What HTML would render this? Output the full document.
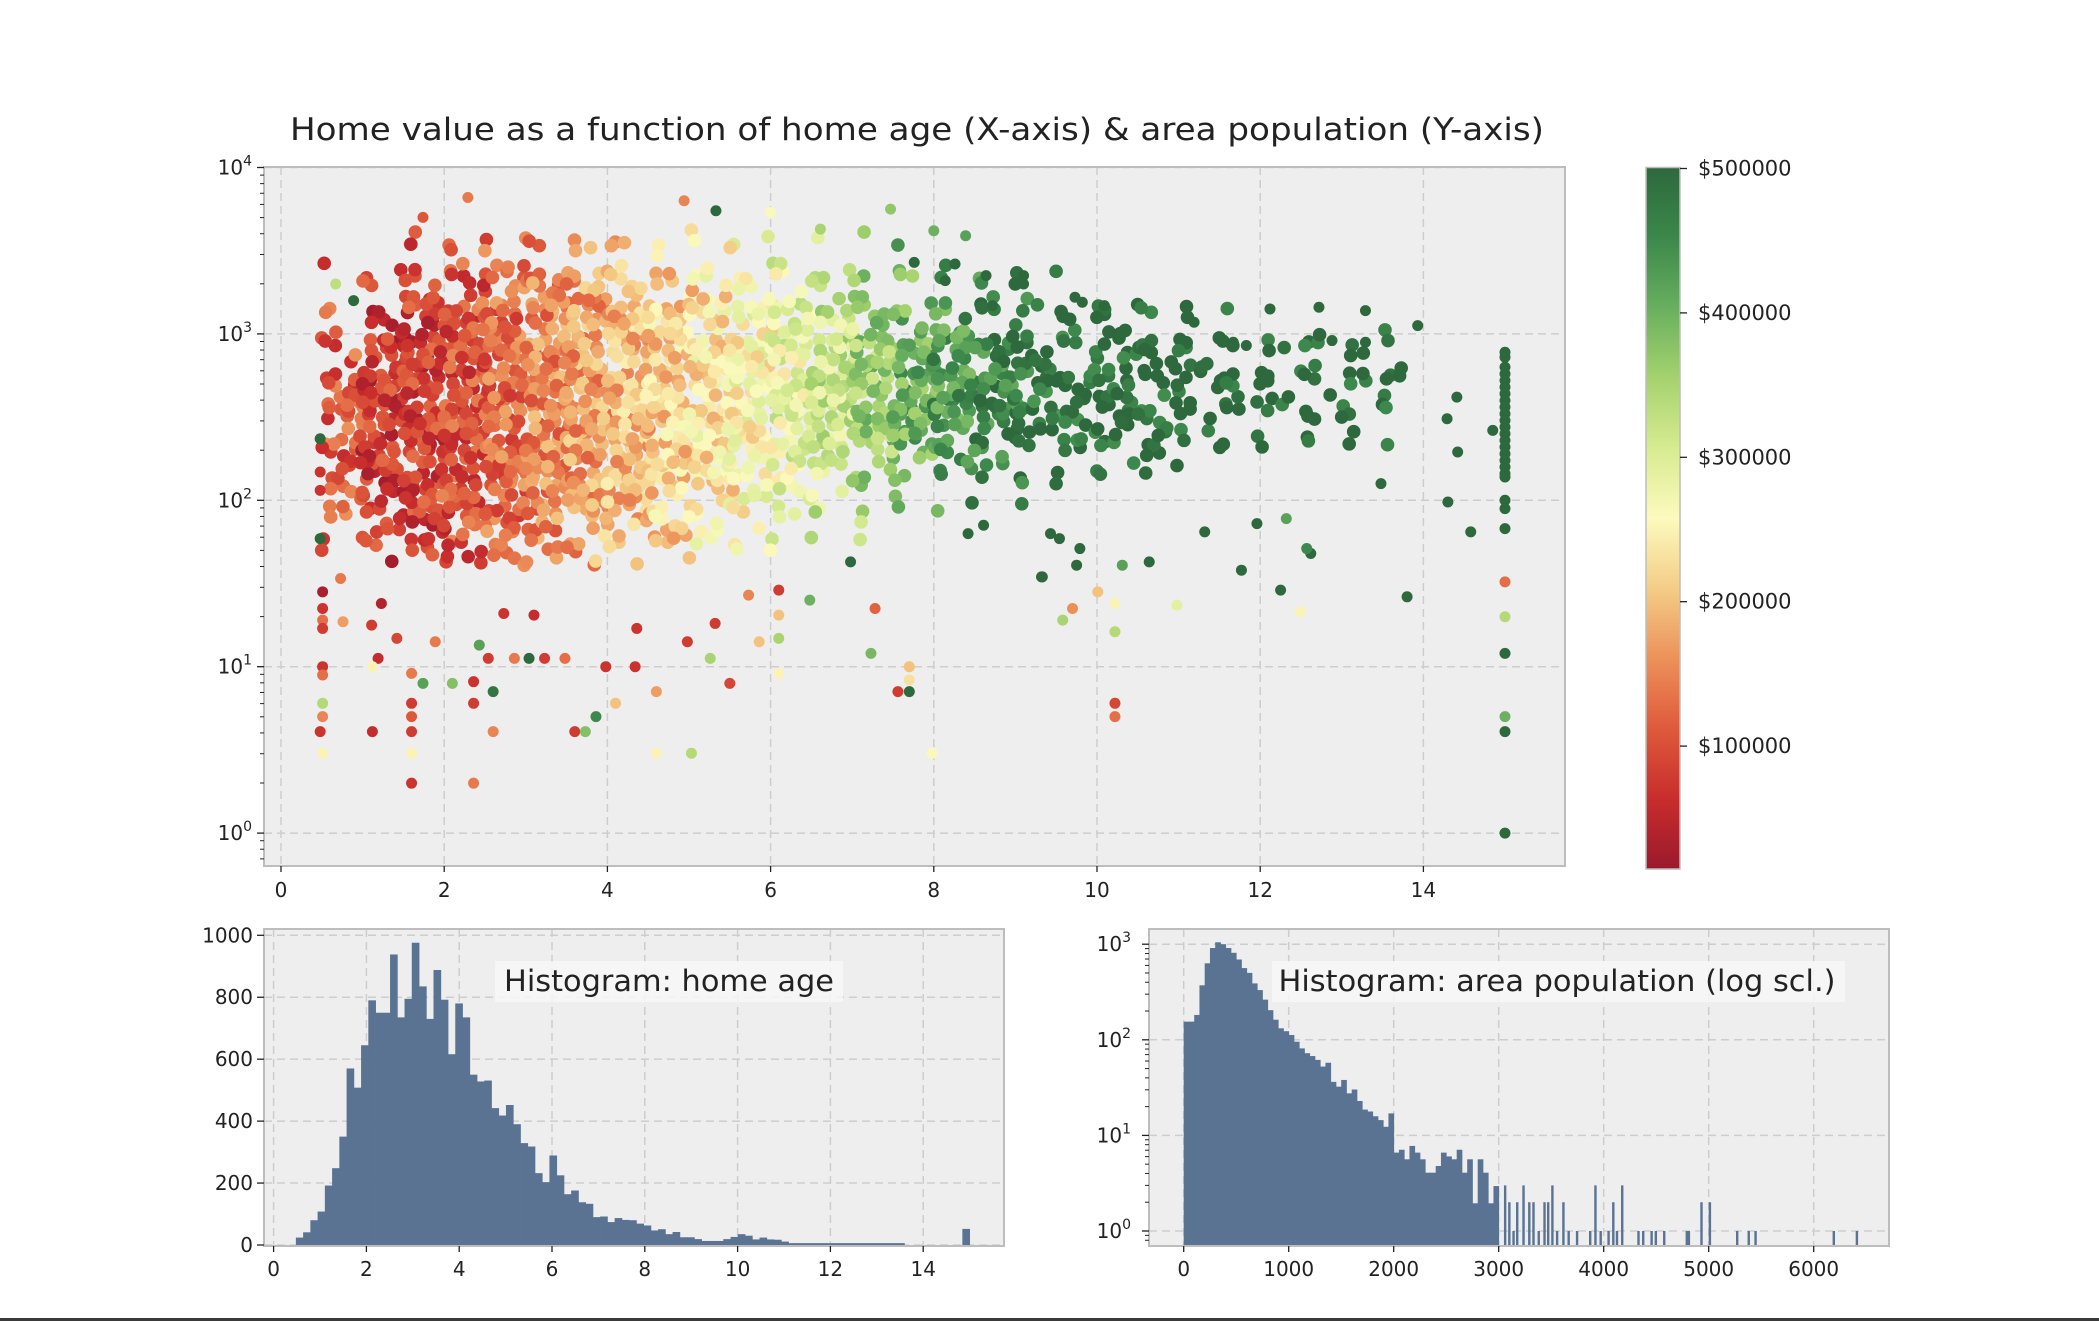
<!DOCTYPE html>
<html><head><meta charset="utf-8"><title>Home value chart</title>
<style>
html,body{margin:0;padding:0;background:#fff;}
svg{display:block;font-family:"DejaVu Sans","Liberation Sans",sans-serif;}
</style></head>
<body>
<svg id="fig" width="2099" height="1321" viewBox="0 0 2099 1321" xmlns="http://www.w3.org/2000/svg">
<defs>
<linearGradient id="cbgrad" x1="0" y1="1" x2="0" y2="0">
<stop offset="0" stop-color="rgb(155,25,45)"/><stop offset="0.1" stop-color="rgb(200,45,45)"/><stop offset="0.2" stop-color="rgb(222,90,60)"/><stop offset="0.3" stop-color="rgb(236,145,90)"/><stop offset="0.4" stop-color="rgb(244,205,135)"/><stop offset="0.5" stop-color="rgb(252,250,190)"/><stop offset="0.6" stop-color="rgb(215,235,145)"/><stop offset="0.7" stop-color="rgb(165,210,110)"/><stop offset="0.8" stop-color="rgb(105,175,95)"/><stop offset="0.9" stop-color="rgb(60,135,75)"/><stop offset="1" stop-color="rgb(45,105,60)"/>
</linearGradient>
</defs>
<text x="917" y="140" font-size="31" text-anchor="middle" fill="#222" textLength="1254" lengthAdjust="spacingAndGlyphs">Home value as a function of home age (X-axis) &amp; area population (Y-axis)</text>
<g id="main"></g>
<g id="cbar"></g>
<g id="h1"></g>
<g id="h2"></g>
<rect x="0" y="1318" width="2099" height="3" fill="#3a3a3a"/>
</svg>
<script>
// ---------- DATA ----------
const coreValuesK = [110,75,80,100,125,150,170,195,215,235,255,285,320,360,400,430,460,480,490,495,495,500,500,500,500,500,500];
const coreDensity = [
[0.15,0.25,0.45,0.7,0.8,0.6,0.35,0.15,0.05,0],
[0.3,0.55,0.85,1,1,1,0.9,0.5,0.2,0],
[0.45,0.75,1,1,1,1,1,0.8,0.4,0.1],
[0.45,0.85,1,1,1,1,1,1,0.55,0.1],
[0.45,0.85,1,1,1,1,1,1,0.6,0.15],
[0.45,0.75,1,1,1,1,1,1,0.6,0.2],
[0.4,0.75,1,1,1,1,1,1,0.6,0.2],
[0.3,0.6,0.9,1,1,1,1,1,0.5,0.2],
[0.3,0.5,0.85,1,1,1,1,0.9,0.4,0.15],
[0.2,0.4,0.75,1,1,1,1,0.8,0.4,0.1],
[0.1,0.3,0.6,0.9,1,1,1,0.8,0.3,0.1],
[0.1,0.2,0.45,0.85,1,1,1,0.7,0.3,0.05],
[0.05,0.15,0.3,0.75,1,1,1,0.6,0.3,0.05],
[0.05,0.1,0.25,0.65,0.95,1,0.95,0.5,0.2,0.05],
[0,0.1,0.2,0.55,0.95,1,0.9,0.4,0.2,0.05],
[0,0.05,0.15,0.45,0.95,1,0.85,0.4,0.15,0],
[0,0.05,0.1,0.35,0.85,0.95,0.75,0.3,0.15,0],
[0,0.05,0.1,0.25,0.6,0.7,0.5,0.2,0.1,0],
[0,0,0.1,0.25,0.5,0.6,0.4,0.2,0.05,0],
[0,0,0.1,0.3,0.6,0.6,0.5,0.3,0,0],
[0,0,0.05,0.3,0.5,0.5,0.4,0.2,0,0],
[0,0,0,0.15,0.35,0.4,0.3,0.1,0,0],
[0,0,0,0.1,0.25,0.3,0.2,0.05,0,0],
[0,0,0,0.1,0.2,0.3,0.2,0,0,0],
[0,0,0,0.1,0.2,0.3,0.25,0,0,0],
[0,0,0,0.1,0.2,0.3,0.2,0,0,0],
[0,0,0,0.05,0.15,0.25,0.1,0,0,0]
];
const ptAge = [2.29,1.74,4.94,5.33,7.47,8.39,8.0,0.67,0.89,6.0,6.61,0.48,0.48,0.48,0.48,0.51,0.51,0.51,0.51,0.51,0.51,0.51,0.51,0.48,0.51,1.12,1.6,1.6,1.6,1.6,1.6,2.36,2.36,2.36,2.6,1.74,2.1,1.19,1.6,2.6,3.6,3.73,3.86,4.1,4.6,4.6,5.03,5.5,7.56,7.7,7.7,7.7,7.98,7.28,7.23,6.1,6.1,6.1,5.86,5.26,5.32,6.48,6.1,5.73,9.33,6.98,8.42,8.61,3.1,2.73,3.23,3.48,3.04,2.86,2.43,2.54,3.98,4.34,1.89,1.42,1.12,0.76,1.11,1.23,0.73,4.36,4.98,
7.76,8.26,8.64,9.1,9.1,8.14,8.72,9.73,9.82,10.09,11.19,12.12,12.72,13.29,13.93,12.88,13.29,11.67,11.83,14.41,14.29,14.42,13.48,14.3,14.58,12.62,12.25,13.8,11.77,11.96,11.32,10.64,10.31,10.22,10.22,10.01,9.70,9.58,10.98,12.49,12.32,12.57,10.22,10.22,9.32,9.43,9.54,9.79,9.75,14.85,
15,15,15,15,15,15,15,15,15,15,15,15,15,15,15,15,15,15,15,15,15,15,15,15,15,15,15,15,15];
const ptLogPop = [3.82,3.70,3.80,3.74,3.75,3.59,3.62,3.30,3.20,3.73,3.63,2.37,2.17,2.06,1.77,1.45,1.35,1.28,1.23,1.0,0.95,0.78,0.70,0.61,0.48,0.61,0.78,0.70,0.61,0.48,0.30,0.30,0.91,0.78,0.85,0.90,0.90,1.05,0.96,0.61,0.61,0.61,0.70,0.78,0.85,0.48,0.48,0.90,0.85,0.85,1.0,0.92,0.48,1.35,1.08,1.31,1.17,0.96,1.15,1.05,1.26,1.40,1.46,1.43,1.54,1.63,1.80,1.85,1.31,1.32,1.05,1.05,1.05,1.05,1.13,1.05,1.0,1.0,1.15,1.17,1.0,1.27,1.25,1.38,1.53,1.23,1.15,
3.43,3.42,3.35,3.35,3.30,3.32,3.17,3.22,3.19,3.17,3.07,3.15,3.16,3.14,3.05,2.96,2.95,2.95,2.93,2.62,2.49,2.29,2.10,1.99,1.81,1.68,1.46,1.42,1.58,1.86,1.81,1.63,1.61,1.38,1.21,1.45,1.35,1.28,1.37,1.33,1.89,1.71,0.78,0.70,1.54,1.80,1.77,1.71,1.61,2.42,
2.89,2.86,2.80,2.76,2.72,2.68,2.64,2.60,2.56,2.52,2.48,2.44,2.40,2.36,2.32,2.28,2.24,2.20,2.16,2.14,2.0,1.95,1.83,1.51,1.30,1.08,0.70,0.61,0.0];
const ptValueK = [140,110,150,500,370,420,400,330,500,260,350,500,70,70,500,30,70,130,80,70,130,340,150,70,250,60,80,110,80,250,70,140,70,80,480,420,380,60,140,150,80,380,450,200,170,250,340,90,80,500,200,230,260,120,390,200,350,250,200,350,80,400,80,150,500,500,500,500,60,70,80,130,500,140,420,80,70,70,140,90,250,170,80,40,140,70,80,
500,500,500,500,500,500,500,500,500,500,500,500,500,500,500,500,500,500,500,500,500,500,500,500,500,500,500,500,500,500,500,500,420,250,340,200,160,350,290,250,420,450,90,130,500,500,500,500,500,500,
500,500,500,500,500,500,500,500,500,500,500,500,500,500,500,500,500,500,500,500,500,500,500,130,340,500,400,500,500];
const mainXTicks = [0,2,4,6,8,10,12,14];
const mainYTicks = [0,1,2,3,4];
const cbarTicksK = [100,200,300,400,500];
const ageCounts = [24,41,80,108,192,248,350,570,508,645,790,750,750,938,735,795,976,835,730,888,792,616,780,735,550,528,531,442,418,452,390,329,318,232,203,289,225,164,176,138,133,90,92,74,87,81,80,69,63,47,51,35,42,25,25,19,13,13,13,19,26,35,30,18,24,18,17,11,6,6,6,6,6,6,6,6,6,6,6,6,6,6,6,6,0,0,0,0,0,0,0,0,52];
const ageXTicks = [0,2,4,6,8,10,12,14];
const ageYTicks = [0,200,400,600,800,1000];
const popLogCounts = [2.19,2.19,2.26,2.57,2.80,2.96,3.02,3.0,2.96,2.91,2.84,2.75,2.70,2.59,2.52,2.42,2.31,2.21,2.12,2.09,2.05,1.98,1.91,1.86,1.83,1.79,1.72,1.76,1.56,1.51,1.58,1.44,1.48,1.36,1.27,1.25,1.20,1.16,1.09,1.23,0.82,0.85,0.75,0.89,0.82,0.75,0.61,0.61,0.68,0.82,0.78,0.75,0.85,0.61,0.75,0.29,0.75,0.61,0.29,0.47];
const tailPop = [3050,3090,3130,3165,3225,3280,3320,3370,3425,3460,3500,3545,3605,3655,3735,3860,3910,3960,4035,4080,4115,4165,4320,4365,4445,4485,4565,4780,4800,4920,5000,5260,5370,5435,6180,6400];
const tailCount = [3,2,1,2,3,2,2,1,2,2,3,1,2,1,1,1,3,1,1,2,1,3,1,1,1,1,1,1,1,2,2,1,1,1,1,1];
const popXTicks = [0,1000,2000,3000,4000,5000,6000];
const popYTicks = [0,1,2,3];

// ---------- HELPERS ----------
const NS = "http://www.w3.org/2000/svg";
function mk(parent, tag, attrs){ const e=document.createElementNS(NS,tag); for(const k in attrs) e.setAttribute(k,attrs[k]); parent.appendChild(e); return e; }
const stops = [[155,25,45],[200,45,45],[222,90,60],[236,145,90],[244,205,135],[252,250,190],[215,235,145],[165,210,110],[105,175,95],[60,135,75],[45,105,60]];
function cmap(t){ t=Math.max(0,Math.min(1,t)); const p=t*10, i=Math.min(9,Math.floor(p)), f=p-i; const a=stops[i], b=stops[i+1];
  return "rgb("+a.map((v,k)=>Math.round(v+(b[k]-v)*f)).join(",")+")"; }
const vmin=15, vmax=500;
function vcol(k){ return cmap((k-vmin)/(vmax-vmin)); }
const GRID="#cdcdcd", BORDER="#bdbdbd", BG="#eeeeee", TXT="#222";
// dot layout pattern inside a density cell (geometry, not data)
const cellOffsets = [[0.12,0.15],[0.62,0.1],[0.38,0.35],[0.88,0.4],[0.1,0.6],[0.6,0.62],[0.35,0.88],[0.85,0.85],
                     [0.37,0.1],[0.87,0.15],[0.12,0.38],[0.62,0.37],[0.37,0.62],[0.87,0.63],[0.1,0.87],[0.6,0.9]];
const cellOrder = [0,10,2,8,12,6,14,4,3,9,1,11,15,5,13,7];
const cellJitterK = [-40,30,-10,50,20,-30,0,40,-50,10,-20,35,25,-45,5,-15];
const cellShift = [[-5,3],[4,-4],[-2,-6],[6,2],[0,5],[-6,-1],[3,6],[-3,-3],[5,-5],[-4,4],[2,0]];

// ---------- MAIN SCATTER ----------
const M = {l:264,r:1565,t:167,b:866};
const mx = x => 281 + 81.6*x;
const my = ly => 167.5 + (4-ly)*166.4;
const main = document.getElementById("main");
const mbg = mk(main,"rect",{x:M.l,y:M.t,width:M.r-M.l,height:M.b-M.t,fill:BG});


mainXTicks.forEach(v=>{ const g=mk(main,"line",{x1:mx(v),x2:mx(v),y1:M.t,y2:M.b,stroke:GRID,"stroke-width":1.5,"stroke-dasharray":"8,5"});
    });
mainYTicks.forEach(v=>{ const g=mk(main,"line",{x1:M.l,x2:M.r,y1:my(v),y2:my(v),stroke:GRID,"stroke-width":1.5,"stroke-dasharray":"8,5"});
    });
const core = mk(main,"g",{});


coreDensity.forEach((col,i)=>{ col.forEach((d,j)=>{ if(d<=0) return;
  const x0=0.5+0.5*i, ly0=1.6+0.2*j;
  const X0=mx(x0), W=mx(x0+0.5)-X0, Y0=my(ly0+0.2), H=my(ly0)-Y0;
  const sh=cellShift[(i*7+j*3)%cellShift.length];
  const n=Math.round(d*16);
  for(let k=0;k<16;k++){ if(cellOrder[k]>=n) continue;
    const o=cellOffsets[k];
    const s2=cellShift[(k+i+2*j)%cellShift.length];
    const c=mk(core,"circle",{cx:X0+o[0]*W+sh[0]+s2[1]*0.5,cy:Y0+o[1]*H+sh[1]+s2[0]*0.5,r:6.8,fill:vcol(coreValuesK[i]+cellJitterK[(k+i+j)%16])});
    
    
  }
});});
const pts = mk(main,"g",{});


ptAge.forEach((a,i)=>{ const c=mk(pts,"circle",{cx:mx(a),cy:my(ptLogPop[i]),r:5.5,fill:vcol(ptValueK[i])});
  
   });
const mbor = mk(main,"rect",{x:M.l,y:M.t,width:M.r-M.l,height:M.b-M.t,fill:"none",stroke:BORDER,"stroke-width":2});


mainXTicks.forEach(v=>{ const t=mk(main,"line",{x1:mx(v),x2:mx(v),y1:M.b,y2:M.b+6,stroke:TXT,"stroke-width":1.3});
   
  const l=mk(main,"text",{x:mx(v),y:M.b+31,"font-size":20,"text-anchor":"middle",fill:TXT}); l.textContent=v;
    });
mainYTicks.forEach(v=>{ const t=mk(main,"line",{x1:M.l-7,x2:M.l,y1:my(v),y2:my(v),stroke:TXT,"stroke-width":1.3});
   
  const l=mk(main,"text",{x:M.l-12,y:my(v)+7,"font-size":20,"text-anchor":"end",fill:TXT}); l.textContent="10";
  const s=mk(l,"tspan",{dy:-9,"font-size":14}); s.textContent=v;
    });
for(let d=-1; d<4; d++){ for(let m=2;m<10;m++){ const ly=d+Math.log10(m); if(ly<-0.2||ly>4) continue;
  const t=mk(main,"line",{x1:M.l-4,x2:M.l,y1:my(ly),y2:my(ly),stroke:TXT,"stroke-width":1});
    } }

// ---------- COLORBAR ----------
const cb = document.getElementById("cbar");
const C = {l:1646,r:1680,t:167.5,b:869};
const cy = k => 168.5 + (500-k)*1.444;
const cbr = mk(cb,"rect",{x:C.l,y:C.t,width:C.r-C.l,height:C.b-C.t,fill:"url(#cbgrad)",stroke:BORDER,"stroke-width":1.5});


cbarTicksK.forEach(k=>{ const t=mk(cb,"line",{x1:C.r,x2:C.r+7,y1:cy(k),y2:cy(k),stroke:TXT,"stroke-width":1.3});
   
  const l=mk(cb,"text",{x:C.r+18,y:cy(k)+7,"font-size":21,fill:TXT}); l.textContent="$"+(k*1000);
    });

// ---------- HIST 1 ----------
const h1 = document.getElementById("h1");
const H1 = {l:264,r:1004,t:929,b:1246};
const hx1 = x => 273.6 + 46.4*x;
const hy1 = c => 1245 - 0.3097*c;
const h1bg = mk(h1,"rect",{x:H1.l,y:H1.t,width:H1.r-H1.l,height:H1.b-H1.t,fill:BG});
 
ageXTicks.forEach(v=>{ const g=mk(h1,"line",{x1:hx1(v),x2:hx1(v),y1:H1.t,y2:H1.b,stroke:GRID,"stroke-width":1.5,"stroke-dasharray":"8,5"});
    });
ageYTicks.forEach(v=>{ const g=mk(h1,"line",{x1:H1.l,x2:H1.r,y1:hy1(v),y2:hy1(v),stroke:GRID,"stroke-width":1.5,"stroke-dasharray":"8,5"});
    });
const bw1 = (15-0.48)/ageCounts.length;
ageCounts.forEach((c,i)=>{ if(c<=0) return; const x0=0.48+i*bw1;
  const b=mk(h1,"rect",{x:hx1(x0),y:hy1(c),width:hx1(x0+bw1)-hx1(x0)+0.4,height:hy1(0)-hy1(c),fill:"#5a7393"});
    });
const h1b = mk(h1,"rect",{x:H1.l,y:H1.t,width:H1.r-H1.l,height:H1.b-H1.t,fill:"none",stroke:BORDER,"stroke-width":2});
 
ageXTicks.forEach(v=>{ const t=mk(h1,"line",{x1:hx1(v),x2:hx1(v),y1:H1.b,y2:H1.b+6,stroke:TXT,"stroke-width":1.3});
   
  const l=mk(h1,"text",{x:hx1(v),y:H1.b+30,"font-size":20,"text-anchor":"middle",fill:TXT}); l.textContent=v;
    });
ageYTicks.forEach(v=>{ const t=mk(h1,"line",{x1:H1.l-7,x2:H1.l,y1:hy1(v),y2:hy1(v),stroke:TXT,"stroke-width":1.3});
   
  const l=mk(h1,"text",{x:H1.l-11,y:hy1(v)+7,"font-size":20,"text-anchor":"end",fill:TXT}); l.textContent=v;
    });
const t1b = mk(h1,"rect",{x:495,y:961,width:348,height:41,fill:"#f7f7f7","fill-opacity":0.85});
 
const t1 = mk(h1,"text",{x:669,y:991,"font-size":29,"text-anchor":"middle",fill:TXT,textLength:330,lengthAdjust:"spacingAndGlyphs"});
t1.textContent="Histogram: home age";
 

// ---------- HIST 2 ----------
const h2 = document.getElementById("h2");
const H2 = {l:1149,r:1889,t:929,b:1246};
const hx2 = p => 1183.7 + 0.105*p;
const hy2 = lc => 1231 - 95.6*lc;
const h2bg = mk(h2,"rect",{x:H2.l,y:H2.t,width:H2.r-H2.l,height:H2.b-H2.t,fill:BG});
 
popXTicks.forEach(v=>{ const g=mk(h2,"line",{x1:hx2(v),x2:hx2(v),y1:H2.t,y2:H2.b,stroke:GRID,"stroke-width":1.5,"stroke-dasharray":"8,5"});
    });
popYTicks.forEach(v=>{ const g=mk(h2,"line",{x1:H2.l,x2:H2.r,y1:hy2(v),y2:hy2(v),stroke:GRID,"stroke-width":1.5,"stroke-dasharray":"8,5"});
    });
popLogCounts.forEach((lc,i)=>{ const p0=i*50;
  const b=mk(h2,"rect",{x:hx2(p0),y:hy2(lc),width:hx2(p0+50)-hx2(p0)+0.4,height:H2.b-hy2(lc),fill:"#5a7393"});
    });
tailPop.forEach((p,i)=>{ const lc=Math.log10(tailCount[i]);
  const b=mk(h2,"rect",{x:hx2(p),y:hy2(lc),width:2.4,height:H2.b-hy2(lc),fill:"#5a7393"});
    });
const h2b = mk(h2,"rect",{x:H2.l,y:H2.t,width:H2.r-H2.l,height:H2.b-H2.t,fill:"none",stroke:BORDER,"stroke-width":2});
 
popXTicks.forEach(v=>{ const t=mk(h2,"line",{x1:hx2(v),x2:hx2(v),y1:H2.b,y2:H2.b+6,stroke:TXT,"stroke-width":1.3});
   
  const l=mk(h2,"text",{x:hx2(v),y:H2.b+30,"font-size":20,"text-anchor":"middle",fill:TXT}); l.textContent=v;
    });
popYTicks.forEach(v=>{ const t=mk(h2,"line",{x1:H2.l-7,x2:H2.l,y1:hy2(v),y2:hy2(v),stroke:TXT,"stroke-width":1.3});
   
  const l=mk(h2,"text",{x:H2.l-18,y:hy2(v)+7,"font-size":20,"text-anchor":"end",fill:TXT}); l.textContent="10";
  const s=mk(l,"tspan",{dy:-9,"font-size":14}); s.textContent=v;
    });
for(let d=-1; d<4; d++){ for(let m=2;m<10;m++){ const ly=d+Math.log10(m); if(ly<-0.15||ly>3.16) continue;
  const t=mk(h2,"line",{x1:H2.l-4,x2:H2.l,y1:hy2(ly),y2:hy2(ly),stroke:TXT,"stroke-width":1});
    } }
const t2b = mk(h2,"rect",{x:1272,y:961,width:573,height:41,fill:"#f7f7f7","fill-opacity":0.85});
 
const t2 = mk(h2,"text",{x:1557,y:991,"font-size":29,"text-anchor":"middle",fill:TXT,textLength:557,lengthAdjust:"spacingAndGlyphs"});
t2.textContent="Histogram: area population (log scl.)";
 
</script>
</body></html>
